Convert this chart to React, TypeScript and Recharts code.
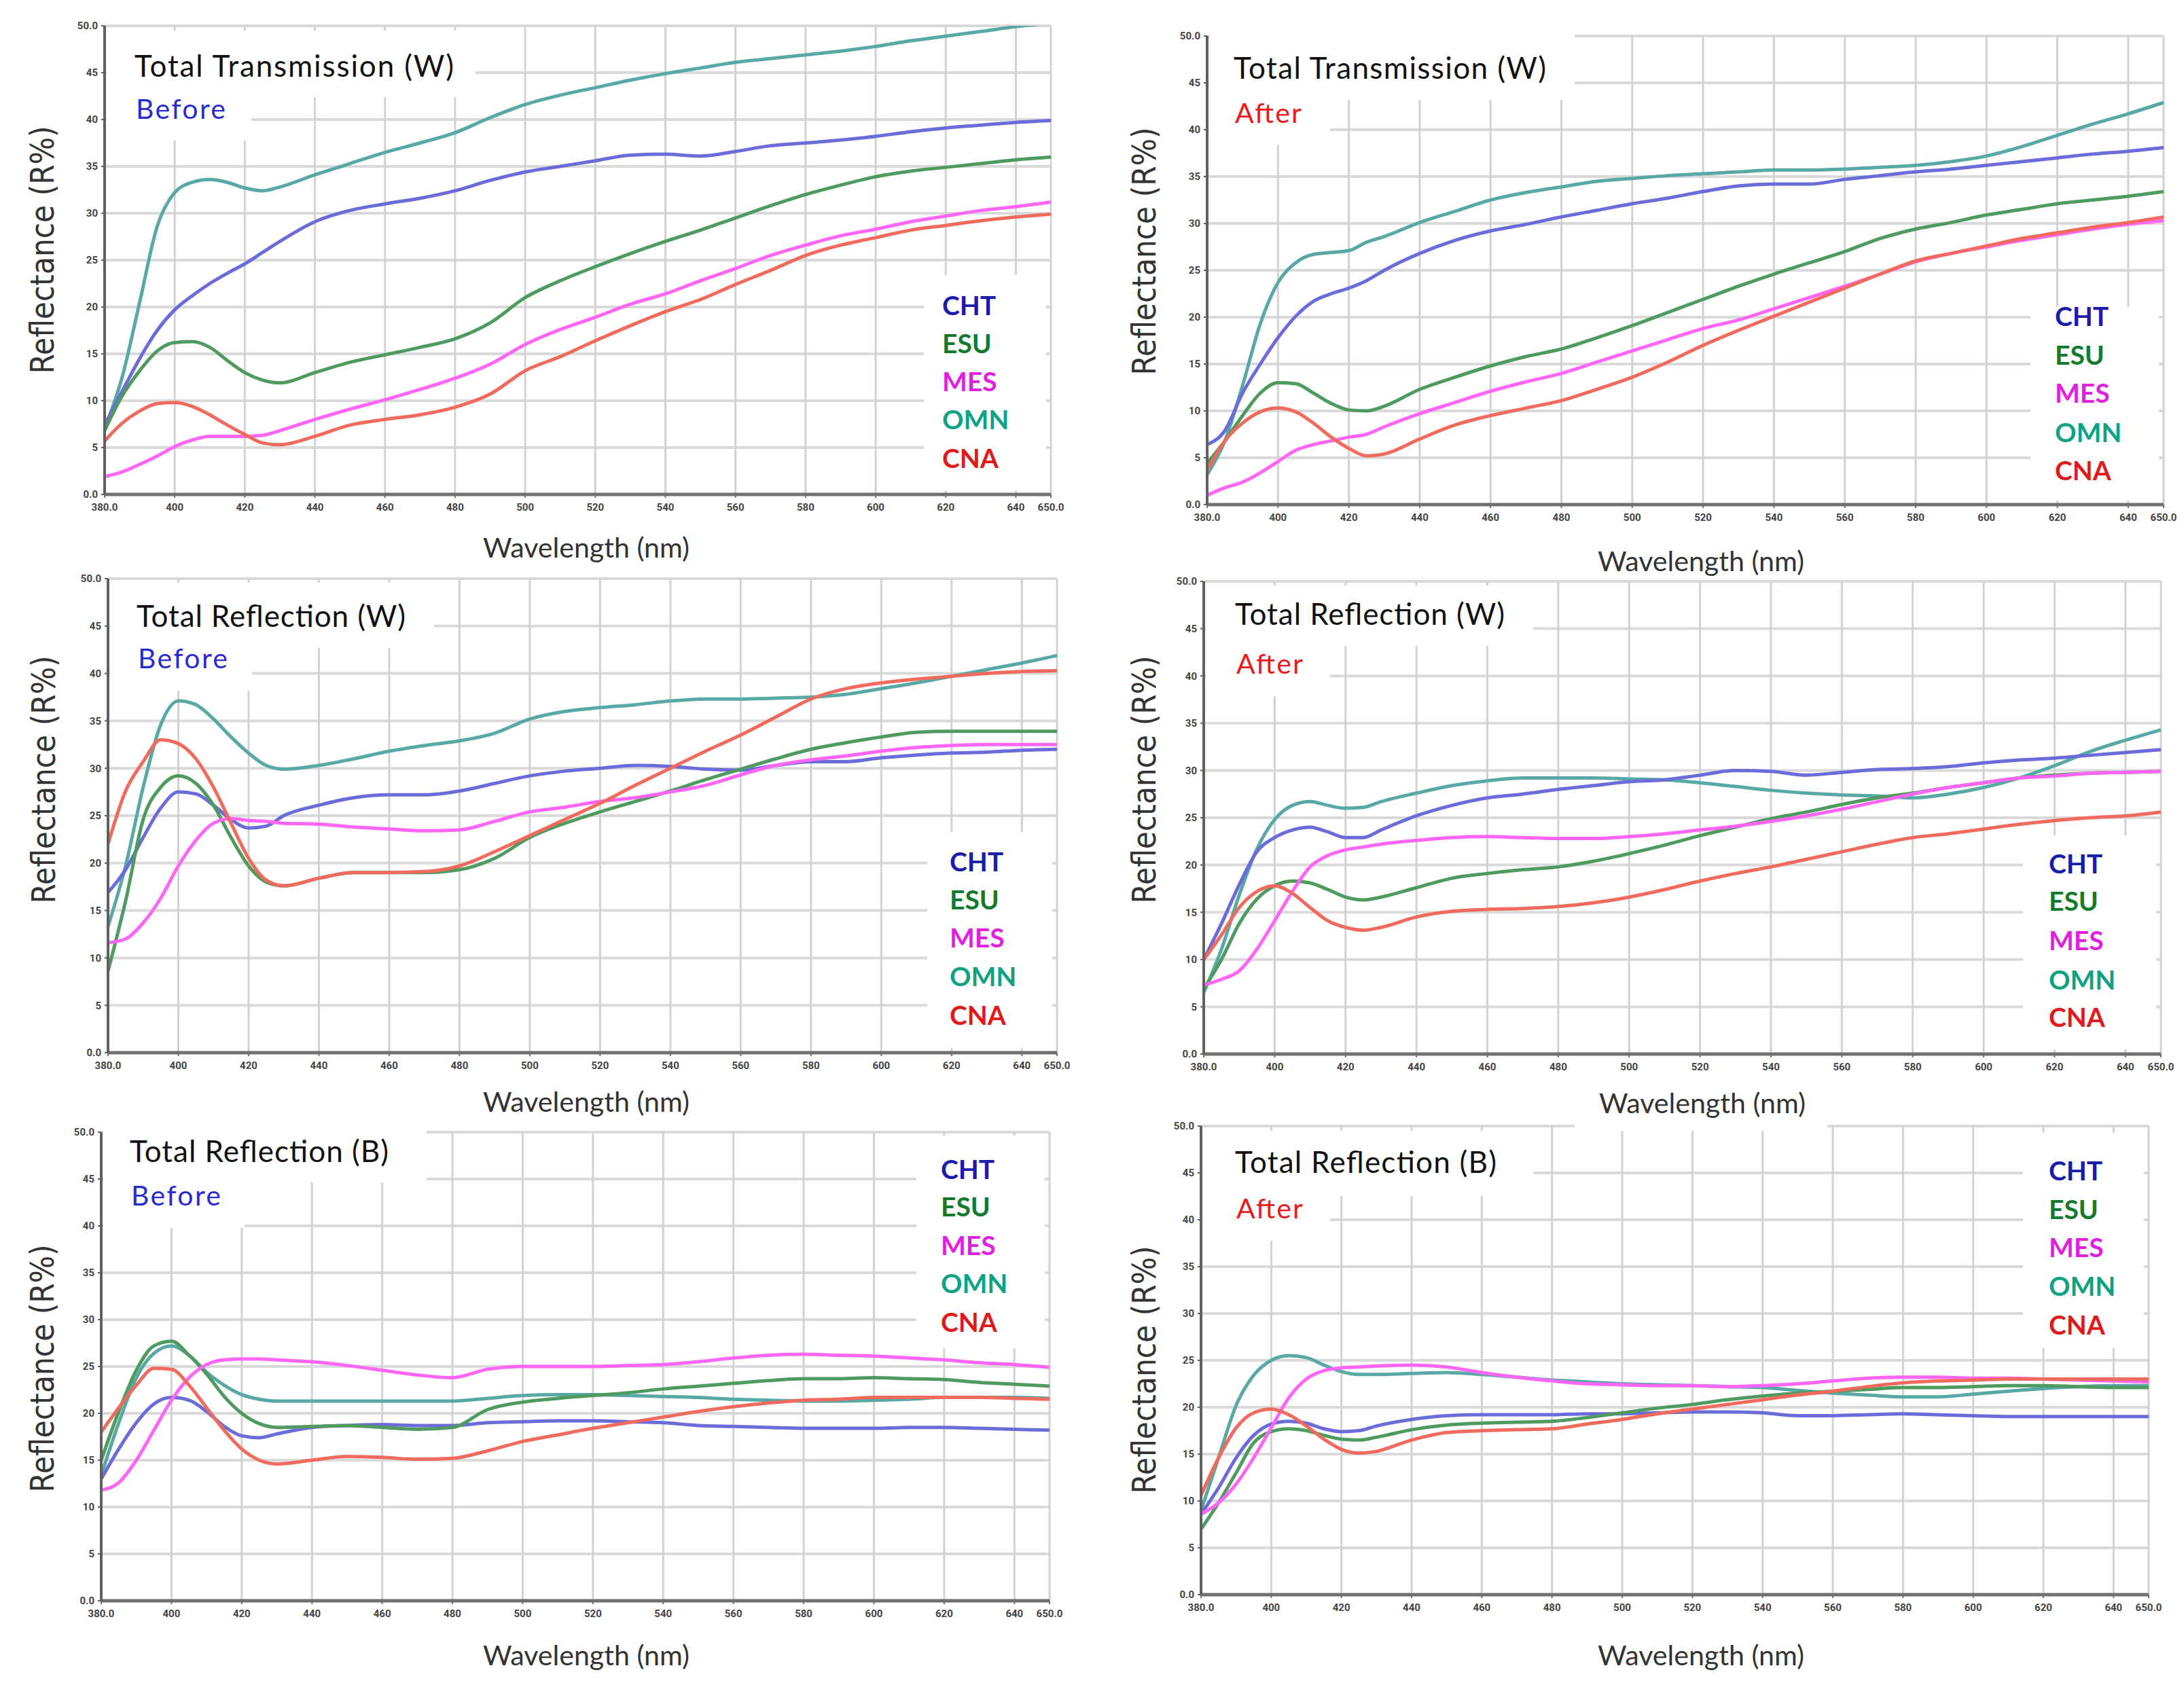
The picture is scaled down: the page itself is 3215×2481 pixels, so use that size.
import React from "react";
import { LineChart, Line, XAxis, YAxis, CartesianGrid } from "recharts";

const wavelengths = [
  380, 385, 390, 395, 400, 405, 410, 415, 420, 425, 430, 440, 450, 460, 470, 480, 490,
  500, 510, 520, 530, 540, 550, 560, 570, 580, 590, 600, 610, 620, 630, 640, 650,
];
const xTicks = [380, 400, 420, 440, 460, 480, 500, 520, 540, 560, 580, 600, 620, 640, 650];
const yTicks = [0, 5, 10, 15, 20, 25, 30, 35, 40, 45, 50];
const seriesNames = ["CHT", "ESU", "MES", "OMN", "CNA"];
const drawOrder = ["OMN", "CHT", "ESU", "MES", "CNA"];

const lineColors: Record<string, string> = {
  CHT: "#6b6bd9",
  ESU: "#4f9a5f",
  MES: "#ff66f5",
  OMN: "#58a8a6",
  CNA: "#f06a5e",
};
const legendColors: Record<string, string> = {
  CHT: "#1c1caa",
  ESU: "#137a2b",
  MES: "#e01fe0",
  OMN: "#0fa283",
  CNA: "#e01a1a",
};

// Total Transmission (W) - Before
const ttwBeforeCHT = [7.4, 11, 14.5, 17.5, 19.7, 21.2, 22.5, 23.6, 24.6, 25.8, 27, 29.1, 30.3, 31.0, 31.6, 32.4, 33.5, 34.4, 35.0, 35.6, 36.2, 36.3, 36.1, 36.6, 37.2, 37.5, 37.8, 38.2, 38.7, 39.1, 39.4, 39.7, 39.9];
const ttwBeforeESU = [6.8, 10.5, 13.2, 15.3, 16.2, 16.3, 15.7, 14.3, 13.0, 12.2, 11.9, 13.0, 14.1, 14.9, 15.7, 16.6, 18.3, 21.0, 22.8, 24.3, 25.7, 27.0, 28.2, 29.5, 30.8, 32.0, 33.0, 33.9, 34.5, 34.9, 35.3, 35.7, 36.0];
const ttwBeforeMES = [1.9, 2.4, 3.2, 4.1, 5.1, 5.8, 6.2, 6.2, 6.2, 6.3, 6.8, 8.0, 9.1, 10.1, 11.2, 12.4, 13.9, 16.0, 17.6, 18.9, 20.3, 21.4, 22.8, 24.1, 25.5, 26.6, 27.6, 28.3, 29.1, 29.7, 30.3, 30.7, 31.2];
const ttwBeforeOMN = [7.0, 12.5, 20.5, 28.6, 32.2, 33.3, 33.6, 33.3, 32.7, 32.4, 32.8, 34.1, 35.3, 36.5, 37.5, 38.6, 40.2, 41.6, 42.6, 43.4, 44.2, 44.9, 45.5, 46.1, 46.5, 46.9, 47.3, 47.8, 48.4, 48.9, 49.4, 49.9, 50.3];
const ttwBeforeCNA = [5.7, 7.6, 8.9, 9.7, 9.8, 9.4, 8.5, 7.4, 6.4, 5.5, 5.3, 6.2, 7.4, 8.0, 8.5, 9.3, 10.7, 13.2, 14.7, 16.4, 18.0, 19.5, 20.8, 22.4, 23.9, 25.5, 26.6, 27.4, 28.2, 28.7, 29.2, 29.6, 29.9];

// Total Transmission (W) - After
const ttwAfterCHT = [6.4, 7.9, 11.9, 15.0, 17.8, 20.1, 21.7, 22.5, 23.1, 23.9, 25.0, 26.8, 28.2, 29.2, 29.9, 30.7, 31.4, 32.1, 32.7, 33.4, 34.0, 34.2, 34.2, 34.7, 35.1, 35.5, 35.8, 36.2, 36.6, 37.0, 37.4, 37.7, 38.1];
const ttwAfterESU = [4.4, 6.8, 9.5, 11.9, 13.0, 12.9, 11.9, 10.8, 10.1, 10.0, 10.5, 12.3, 13.6, 14.8, 15.8, 16.6, 17.8, 19.1, 20.5, 21.9, 23.3, 24.6, 25.8, 27.0, 28.4, 29.4, 30.1, 30.9, 31.5, 32.1, 32.5, 32.9, 33.4];
const ttwAfterMES = [1.0, 1.8, 2.4, 3.4, 4.6, 5.8, 6.4, 6.8, 7.2, 7.5, 8.3, 9.7, 10.9, 12.1, 13.1, 14.0, 15.2, 16.4, 17.6, 18.8, 19.7, 20.9, 22.1, 23.3, 24.6, 25.9, 26.8, 27.5, 28.2, 28.8, 29.4, 29.9, 30.3];
const ttwAfterOMN = [3.2, 6.8, 12.7, 19.3, 23.7, 25.8, 26.7, 26.9, 27.1, 28.0, 28.6, 30.1, 31.3, 32.5, 33.3, 33.9, 34.5, 34.8, 35.1, 35.3, 35.5, 35.7, 35.7, 35.8, 36.0, 36.2, 36.6, 37.2, 38.2, 39.4, 40.6, 41.7, 42.9];
const ttwAfterCNA = [3.6, 6.8, 8.7, 9.9, 10.3, 9.9, 8.7, 7.2, 6.0, 5.2, 5.4, 7.0, 8.5, 9.5, 10.3, 11.1, 12.3, 13.6, 15.2, 17.0, 18.6, 20.1, 21.6, 23.1, 24.6, 26.0, 26.8, 27.6, 28.4, 29.0, 29.6, 30.1, 30.7];

// Total Reflection (W) - Before
const trwBeforeCHT = [16.9, 19.3, 22.7, 25.8, 27.5, 27.3, 26.1, 24.6, 23.7, 23.9, 25.0, 26.1, 26.9, 27.2, 27.2, 27.6, 28.4, 29.2, 29.7, 30.0, 30.3, 30.2, 29.9, 29.8, 30.3, 30.7, 30.7, 31.1, 31.4, 31.6, 31.7, 31.9, 32.0];
const trwBeforeESU = [8.6, 16.0, 24.6, 28.0, 29.2, 28.4, 26.1, 22.7, 19.7, 18.0, 17.6, 18.4, 19.0, 19.0, 19.0, 19.3, 20.5, 22.7, 24.2, 25.4, 26.5, 27.6, 28.8, 29.9, 31.0, 32.0, 32.7, 33.3, 33.8, 33.9, 33.9, 33.9, 33.9];
const trwBeforeMES = [11.6, 12.0, 13.7, 16.3, 19.7, 22.4, 24.2, 24.7, 24.5, 24.4, 24.2, 24.1, 23.8, 23.6, 23.4, 23.5, 24.4, 25.4, 25.9, 26.5, 26.9, 27.5, 28.2, 29.3, 30.3, 30.9, 31.3, 31.8, 32.2, 32.4, 32.5, 32.5, 32.5];
const trwBeforeOMN = [13.3, 19.7, 28.0, 34.6, 37.1, 36.7, 35.2, 33.3, 31.6, 30.3, 29.9, 30.3, 31.0, 31.8, 32.4, 32.9, 33.7, 35.2, 36.0, 36.4, 36.7, 37.1, 37.3, 37.3, 37.4, 37.5, 37.8, 38.4, 39.0, 39.7, 40.4, 41.1, 41.9];
const trwBeforeCNA = [22.0, 27.6, 30.7, 33.0, 32.6, 31.0, 28.0, 24.2, 20.5, 18.2, 17.6, 18.4, 19.0, 19.0, 19.1, 19.7, 21.2, 22.9, 24.6, 26.3, 28.2, 30.0, 31.8, 33.5, 35.4, 37.3, 38.4, 39.0, 39.4, 39.7, 40.0, 40.2, 40.3];

// Total Reflection (W) - After
const trwAfterCHT = [10.0, 13.8, 17.9, 21.4, 22.9, 23.7, 24.0, 23.5, 22.9, 22.9, 23.7, 25.2, 26.3, 27.1, 27.5, 28.0, 28.4, 28.8, 29.0, 29.5, 30.0, 29.9, 29.5, 29.8, 30.1, 30.2, 30.4, 30.8, 31.1, 31.3, 31.6, 31.9, 32.2];
const trwAfterESU = [6.9, 10.0, 13.8, 16.4, 17.8, 18.3, 18.1, 17.4, 16.6, 16.3, 16.6, 17.6, 18.6, 19.1, 19.5, 19.8, 20.4, 21.2, 22.1, 23.1, 24.0, 24.9, 25.6, 26.4, 27.1, 27.6, 28.2, 28.7, 29.2, 29.5, 29.7, 29.8, 29.9];
const trwAfterMES = [7.3, 7.9, 8.8, 11.1, 14.1, 17.2, 19.8, 21.0, 21.6, 21.9, 22.2, 22.6, 22.9, 23.0, 22.9, 22.8, 22.8, 23.0, 23.3, 23.7, 24.1, 24.6, 25.2, 25.9, 26.7, 27.5, 28.2, 28.7, 29.2, 29.4, 29.7, 29.8, 29.9];
const trwAfterOMN = [6.5, 11.1, 16.8, 21.7, 24.8, 26.3, 26.7, 26.3, 26.0, 26.1, 26.7, 27.6, 28.4, 28.9, 29.2, 29.2, 29.2, 29.1, 29.0, 28.7, 28.3, 27.9, 27.6, 27.4, 27.3, 27.1, 27.5, 28.2, 29.2, 30.5, 32.0, 33.2, 34.3];
const trwAfterCNA = [10.0, 12.6, 15.5, 17.2, 17.8, 17.0, 15.5, 14.1, 13.4, 13.1, 13.4, 14.5, 15.1, 15.3, 15.4, 15.6, 16.0, 16.6, 17.4, 18.3, 19.1, 19.8, 20.6, 21.4, 22.2, 22.9, 23.3, 23.8, 24.3, 24.7, 25.0, 25.2, 25.6];

// Total Reflection (B) - Before
const trbBeforeCHT = [13.0, 16.2, 19.0, 21.0, 21.7, 21.4, 20.2, 18.6, 17.6, 17.4, 17.8, 18.5, 18.7, 18.8, 18.7, 18.7, 19.0, 19.1, 19.2, 19.2, 19.1, 19.0, 18.7, 18.6, 18.5, 18.4, 18.4, 18.4, 18.5, 18.5, 18.4, 18.3, 18.2];
const trbBeforeESU = [15.0, 20.2, 24.6, 27.2, 27.7, 26.2, 24.2, 21.8, 20.0, 18.9, 18.5, 18.6, 18.7, 18.5, 18.3, 18.5, 20.4, 21.2, 21.6, 21.9, 22.2, 22.6, 22.9, 23.2, 23.5, 23.7, 23.7, 23.8, 23.7, 23.6, 23.3, 23.1, 22.9];
const trbBeforeMES = [11.8, 12.6, 15.0, 18.2, 21.4, 23.8, 25.2, 25.7, 25.8, 25.8, 25.7, 25.5, 25.1, 24.6, 24.1, 23.8, 24.7, 25.0, 25.0, 25.0, 25.1, 25.2, 25.5, 25.9, 26.2, 26.3, 26.2, 26.1, 25.9, 25.7, 25.4, 25.2, 24.9];
const trbBeforeOMN = [13.4, 19.0, 23.8, 26.4, 27.2, 26.2, 24.4, 23.0, 22.0, 21.5, 21.3, 21.3, 21.3, 21.3, 21.3, 21.3, 21.6, 21.9, 22.0, 22.0, 21.9, 21.8, 21.7, 21.5, 21.4, 21.3, 21.3, 21.4, 21.5, 21.7, 21.7, 21.7, 21.6];
const trbBeforeCNA = [18.0, 20.6, 23.0, 24.8, 24.7, 23.0, 20.6, 18.2, 16.2, 15.0, 14.6, 15.0, 15.4, 15.3, 15.1, 15.2, 16.0, 17.0, 17.7, 18.4, 19.0, 19.6, 20.2, 20.7, 21.1, 21.4, 21.5, 21.7, 21.7, 21.7, 21.7, 21.6, 21.5];

// Total Reflection (B) - After
const trbAfterCHT = [8.6, 11.4, 14.6, 17.0, 18.2, 18.5, 18.3, 17.7, 17.4, 17.5, 18.0, 18.7, 19.1, 19.2, 19.2, 19.2, 19.3, 19.3, 19.4, 19.5, 19.5, 19.4, 19.1, 19.1, 19.2, 19.3, 19.2, 19.1, 19.0, 19.0, 19.0, 19.0, 19.0];
const trbAfterESU = [7.0, 9.8, 13.0, 16.2, 17.4, 17.7, 17.5, 17.0, 16.6, 16.5, 16.8, 17.6, 18.1, 18.3, 18.4, 18.5, 18.9, 19.4, 19.9, 20.3, 20.8, 21.2, 21.5, 21.7, 21.9, 22.1, 22.1, 22.2, 22.3, 22.3, 22.2, 22.1, 22.1];
const trbAfterMES = [8.6, 9.8, 11.8, 14.6, 17.8, 21.0, 23.0, 23.9, 24.2, 24.3, 24.4, 24.5, 24.3, 23.7, 23.2, 22.8, 22.5, 22.4, 22.3, 22.3, 22.2, 22.3, 22.5, 22.8, 23.1, 23.2, 23.2, 23.1, 23.1, 23.0, 22.9, 22.8, 22.7];
const trbAfterOMN = [9.0, 14.6, 20.2, 23.4, 25.0, 25.5, 25.3, 24.5, 23.8, 23.5, 23.5, 23.6, 23.7, 23.5, 23.2, 22.9, 22.7, 22.5, 22.4, 22.3, 22.2, 22.1, 21.8, 21.5, 21.3, 21.1, 21.1, 21.4, 21.7, 22.0, 22.2, 22.3, 22.3];
const trbAfterCNA = [10.6, 14.6, 17.8, 19.4, 19.8, 19.2, 18.0, 16.6, 15.5, 15.1, 15.3, 16.5, 17.3, 17.5, 17.6, 17.7, 18.2, 18.7, 19.3, 19.8, 20.3, 20.8, 21.3, 21.7, 22.2, 22.6, 22.8, 22.9, 23.0, 23.0, 23.0, 23.0, 23.0];

type Box = [number, number, number, number];

interface PanelDef {
  title: string;
  phase: string;
  phaseColor: string;
  series: Record<string, number[]>;
  L: number; T: number; R: number; B: number;
  boxes: Box[];
  titleX: number; titleY: number; titleLen: number;
  phaseY: number; phaseLen: number;
  legendX: number; legendY: number[];
  yLabel: [number, number];
  xLabel: [number, number];
}

const BLUE = "#2a2ad2";
const RED = "#e81a1a";

const panels: PanelDef[] = [
  {
    title: "Total Transmission (W)", phase: "Before", phaseColor: BLUE,
    series: { CHT: ttwBeforeCHT, ESU: ttwBeforeESU, MES: ttwBeforeMES, OMN: ttwBeforeOMN, CNA: ttwBeforeCNA },
    L: 154, T: 38, R: 1547, B: 728,
    boxes: [[157, 45, 700, 143], [157, 143, 370, 207], [1360, 405, 1540, 722]],
    titleX: 198, titleY: 113, titleLen: 470, phaseY: 175, phaseLen: 132,
    legendX: 1387, legendY: [450, 506, 562, 618, 675],
    yLabel: [62, 368], xLabel: [863, 806],
  },
  {
    title: "Total Transmission (W)", phase: "After", phaseColor: RED,
    series: { CHT: ttwAfterCHT, ESU: ttwAfterESU, MES: ttwAfterMES, OMN: ttwAfterOMN, CNA: ttwAfterCNA },
    L: 1777, T: 53, R: 3185, B: 743,
    boxes: [[1780, 45, 2318, 147], [1780, 147, 1958, 213], [2989, 452, 3178, 737]],
    titleX: 1816, titleY: 116, titleLen: 460, phaseY: 181, phaseLen: 98,
    legendX: 3025, legendY: [466, 523, 579, 637, 693],
    yLabel: [1684, 370], xLabel: [2504, 826],
  },
  {
    title: "Total Reflection (W)", phase: "Before", phaseColor: BLUE,
    series: { CHT: trwBeforeCHT, ESU: trwBeforeESU, MES: trwBeforeMES, OMN: trwBeforeOMN, CNA: trwBeforeCNA },
    L: 159, T: 852, R: 1556, B: 1550,
    boxes: [[162, 858, 639, 954], [162, 954, 371, 1017], [1365, 1225, 1549, 1543]],
    titleX: 201, titleY: 923, titleLen: 396, phaseY: 984, phaseLen: 132,
    legendX: 1398, legendY: [1269, 1325, 1381, 1438, 1495],
    yLabel: [64, 1148], xLabel: [863, 1622],
  },
  {
    title: "Total Reflection (W)", phase: "After", phaseColor: RED,
    series: { CHT: trwAfterCHT, ESU: trwAfterESU, MES: trwAfterMES, OMN: trwAfterOMN, CNA: trwAfterCNA },
    L: 1772, T: 856, R: 3181, B: 1552,
    boxes: [[1775, 862, 2257, 951], [1775, 951, 1958, 1025], [2978, 1230, 3174, 1545]],
    titleX: 1818, titleY: 920, titleLen: 397, phaseY: 992, phaseLen: 98,
    legendX: 3016, legendY: [1272, 1327, 1385, 1443, 1498],
    yLabel: [1684, 1148], xLabel: [2506, 1624],
  },
  {
    title: "Total Reflection (B)", phase: "Before", phaseColor: BLUE,
    series: { CHT: trbBeforeCHT, ESU: trbBeforeESU, MES: trbBeforeMES, OMN: trbBeforeOMN, CNA: trbBeforeCNA },
    L: 149, T: 1667, R: 1545, B: 2357,
    boxes: [[152, 1660, 628, 1741], [152, 1741, 360, 1808], [1349, 1672, 1538, 1985]],
    titleX: 191, titleY: 1711, titleLen: 381, phaseY: 1775, phaseLen: 132,
    legendX: 1385, legendY: [1722, 1777, 1834, 1890, 1947],
    yLabel: [62, 2015], xLabel: [863, 2437],
  },
  {
    title: "Total Reflection (B)", phase: "After", phaseColor: RED,
    series: { CHT: trbAfterCHT, ESU: trbAfterESU, MES: trbAfterMES, OMN: trbAfterOMN, CNA: trbAfterCNA },
    L: 1768, T: 1658, R: 3163, B: 2348,
    boxes: [[1771, 1665, 2257, 1761], [1771, 1761, 1958, 1827], [2318, 1650, 2690, 1665], [2978, 1668, 3156, 1985]],
    titleX: 1818, titleY: 1727, titleLen: 385, phaseY: 1794, phaseLen: 98,
    legendX: 3016, legendY: [1724, 1781, 1837, 1894, 1951],
    yLabel: [1684, 2017], xLabel: [2504, 2437],
  },
];

const fmtX = (v: number) => (v === 380 || v === 650 ? v.toFixed(1) : String(v));
const fmtY = (v: number) => (v === 0 || v === 50 ? v.toFixed(1) : String(v));

const tickStyle = { fontSize: 15, fill: "#444", fontWeight: 700, fontFamily: "Roboto" };

const Panel = ({ p }: { p: PanelDef }) => {
  const data = wavelengths.map((wl, i) => {
    const row: Record<string, number> = { wl };
    seriesNames.forEach((s) => (row[s] = p.series[s][i]));
    return row;
  });
  const w = p.R - p.L + 140;
  const h = p.B - p.T + 70;
  return (
    <div style={{ position: "absolute", left: p.L - 100, top: p.T - 20, width: w, height: h }}>
      <LineChart width={w} height={h} data={data} margin={{ top: 20, right: 40, bottom: 20, left: 40 }}>
        <CartesianGrid vertical={false} stroke="#dadada" strokeWidth={4} />
        <CartesianGrid horizontal={false} stroke="#d2d2d2" strokeWidth={3} />
        <XAxis
          dataKey="wl"
          type="number"
          domain={[380, 650]}
          ticks={xTicks}
          tickFormatter={fmtX}
          height={30}
          tickSize={5}
          tickMargin={8}
          tick={tickStyle}
          axisLine={{ stroke: "#707070", strokeWidth: 5 }}
          tickLine={{ stroke: "#707070", strokeWidth: 2 }}
          interval={0}
        />
        <YAxis
          type="number"
          domain={[0, 50]}
          ticks={yTicks}
          tickFormatter={fmtY}
          allowDataOverflow
          width={60}
          tickSize={5}
          tickMargin={5}
          tick={tickStyle}
          axisLine={{ stroke: "#606060", strokeWidth: 4 }}
          tickLine={{ stroke: "#606060", strokeWidth: 2 }}
          interval={0}
        />
        {drawOrder.map((s) => (
          <Line
            key={s}
            dataKey={s}
            type="monotone"
            stroke={lineColors[s]}
            strokeWidth={5}
            dot={false}
            isAnimationActive={false}
          />
        ))}
      </LineChart>
    </div>
  );
};

const Overlay = () => (
  <svg
    width={3215}
    height={2481}
    style={{ position: "absolute", left: 0, top: 0, pointerEvents: "none" }}
  >
    {panels.map((p, idx) => (
      <g key={idx}>
        {p.boxes.map((b, j) => (
          <rect key={j} x={b[0]} y={b[1]} width={b[2] - b[0]} height={b[3] - b[1]} fill="#ffffff" />
        ))}
        <text x={p.titleX} y={p.titleY} fontFamily="Lato" fontSize={44} fill="#111" textLength={p.titleLen}>
          {p.title}
        </text>
        <text x={p.titleX + 2} y={p.phaseY} fontFamily="Lato" fontSize={41} fill={p.phaseColor} textLength={p.phaseLen}>
          {p.phase}
        </text>
        {seriesNames.map((s, j) => (
          <text
            key={s}
            x={p.legendX}
            y={p.legendY[j] + 14}
            fontFamily="Lato"
            fontWeight={700}
            fontSize={39}
            fill={legendColors[s]}
          >
            {s}
          </text>
        ))}
        <text
          x={p.yLabel[0]}
          y={p.yLabel[1]}
          transform={`rotate(-90, ${p.yLabel[0]}, ${p.yLabel[1]})`}
          textAnchor="middle"
          dominantBaseline="central"
          fontFamily="DejaVu Sans"
          fontSize={48}
          fill="#333"
          textLength={365}
          lengthAdjust="spacingAndGlyphs"
        >
          Reflectance (R%)
        </text>
        <text
          x={p.xLabel[0]}
          y={p.xLabel[1]}
          textAnchor="middle"
          dominantBaseline="central"
          fontFamily="Lato"
          fontSize={40}
          fill="#333"
          textLength={304}
          lengthAdjust="spacingAndGlyphs"
        >
          Wavelength (nm)
        </text>
      </g>
    ))}
  </svg>
);

const App = () => (
  <div
    style={{
      position: "absolute",
      left: 0,
      top: 0,
      width: 3215,
      height: 2481,
      background: "#ffffff",
      overflow: "hidden",
    }}
  >
    {panels.map((p, i) => (
      <Panel key={i} p={p} />
    ))}
    <Overlay />
  </div>
);

export default App;
